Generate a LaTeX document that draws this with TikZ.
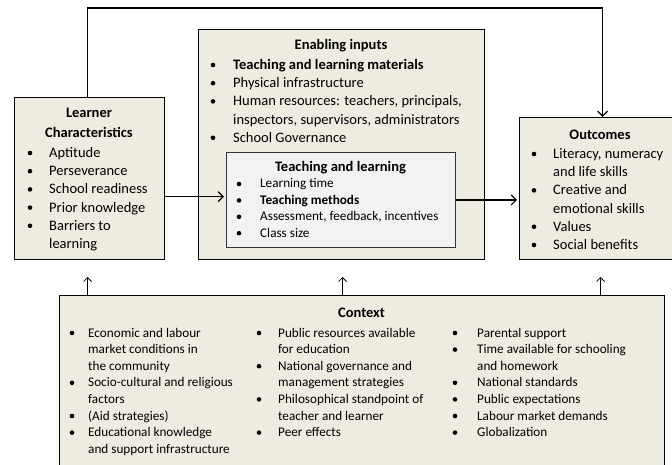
\documentclass[tikz,border=0pt]{standalone}
\usepackage{fontspec}
\setmainfont{Carlito}
\usetikzlibrary{arrows.meta}
\definecolor{boxtan}{HTML}{EEECE1}
\definecolor{boxgrey}{HTML}{F2F2F2}
\newcommand\fbig{\fontsize{14.5}{17}\selectfont}
\newcommand\fsmall{\fontsize{13.2}{16}\selectfont}
% #1 prefix, #2 bullet x, #3 text x, #4 first baseline, #5 step, #6 font, #7 bullet raise, #8 list
\newcommand\blist[8]{%
  \foreach \bflag/\btext [count=\i from 0] in {#8}{%
    \node[txt,font=#6] (#1\i) at (#3,{#4+#5*\i}) {\btext};
    \ifnum\bflag=1 \fill (#2,{#4+#5*\i-#7}) circle[radius=2.3pt];\fi
  }}
\begin{document}
\begin{tikzpicture}[x=1pt,y=-1pt,
  box/.style={draw=black,line width=1.2pt,fill=boxtan,anchor=north west,inner sep=0pt},
  innerbox/.style={draw=black!80,line width=0.9pt,fill=boxgrey,anchor=north west,inner sep=0pt},
  txt/.style={anchor=base west,inner sep=0pt},
  ttl/.style={anchor=base,inner sep=0pt,font=\fbig\bfseries},
  arr/.style={line width=1.2pt,-{Straight Barb[length=5pt,width=10pt,line width=1.2pt]}},
  uparr/.style={line width=0.8pt,-{Straight Barb[length=4pt,width=8pt,line width=0.8pt]}}]
\useasboundingbox (0,0) rectangle (672,465);
\begin{scope}
\clip (0,0) rectangle (672,465);
% boxes
\node[box,minimum width=150pt,minimum height=162pt] (learner) at (14,97) {};
\node[box,minimum width=286pt,minimum height=230pt] (enabling) at (198,29) {};
\node[innerbox,minimum width=229pt,minimum height=95pt] (inner) at (226,152) {};
\node[box,minimum width=162pt,minimum height=142pt] (outcomes) at (519,117) {};
\node[box,minimum width=605pt,minimum height=180pt] (context) at (59,295) {};
\end{scope}
% connectors
\coordinate (la) at ([yshift=-18pt]learner.east);
\draw[arr] (la) -- ([xshift=-2pt]la -| inner.west);
\draw[arr] (inner.east) -- ([xshift=-2pt]inner.east -| outcomes.west);
\draw[arr] ([xshift=-2pt]learner.north) -- ++(0,-89) -| ([xshift=2pt]outcomes.north);
\draw[uparr] ([xshift=-2pt]context.north -| learner.north) -- ++(0,-18);
\draw[uparr] ([xshift=1pt]context.north -| enabling.north) -- ++(0,-18);
\draw[uparr] (context.north -| outcomes.north) -- ++(0,-18);
% learner
\node[ttl] (lt1) at (89,118) {Learner};
\node[ttl] (lt2) at (89,138) {Characteristics};
\blist{L}{30}{49}{157.5}{18.2}{\fbig}{4.5}{1/Aptitude,1/Perseverance,1/School readiness,1/Prior knowledge,1/Barriers to,0/learning}
% enabling
\node[ttl] (et) at (341,50) {Enabling inputs};
\blist{E}{213}{233}{69.5}{18.2}{\fbig}{4.5}{1/\textbf{Teaching and learning materials},1/Physical infrastructure,1/{Human resources: teachers, principals,},0/{inspectors, supervisors, administrators},1/School Governance}
% inner
\node[ttl] (it) at (340.5,171.5) {Teaching and learning};
\blist{I}{239}{260}{188}{16.4}{\fsmall}{4}{1/Learning time,1/\textbf{Teaching methods},1/{Assessment, feedback, incentives},1/Class size}
% outcomes
\node[ttl] (ot) at (600,140) {Outcomes};
\blist{O}{534}{553}{158.5}{18.2}{\fbig}{4.5}{1/{Literacy, numeracy},0/and life skills,1/Creative and,0/emotional skills,1/Values,1/Social benefits}
% context
\node[ttl] (ct) at (361.5,317) {Context};
\blist{CA}{72}{88}{337}{16.6}{\fsmall}{4}{1/Economic and labour,0/market conditions in,0/the community,1/Socio-cultural and religious,0/factors,1/(Aid strategies),1/Educational knowledge,0/and support infrastructure}
\blist{CB}{259}{278}{337}{16.6}{\fsmall}{4}{1/Public resources available,0/for education,1/National governance and,0/management strategies,1/Philosophical standpoint of,0/teacher and learner,1/Peer effects}
\blist{CC}{455}{477}{337}{16.6}{\fsmall}{4}{1/Parental support,1/Time available for schooling,0/and homework,1/National standards,1/Public expectations,1/Labour market demands,1/Globalization}
\end{tikzpicture}
\end{document}
